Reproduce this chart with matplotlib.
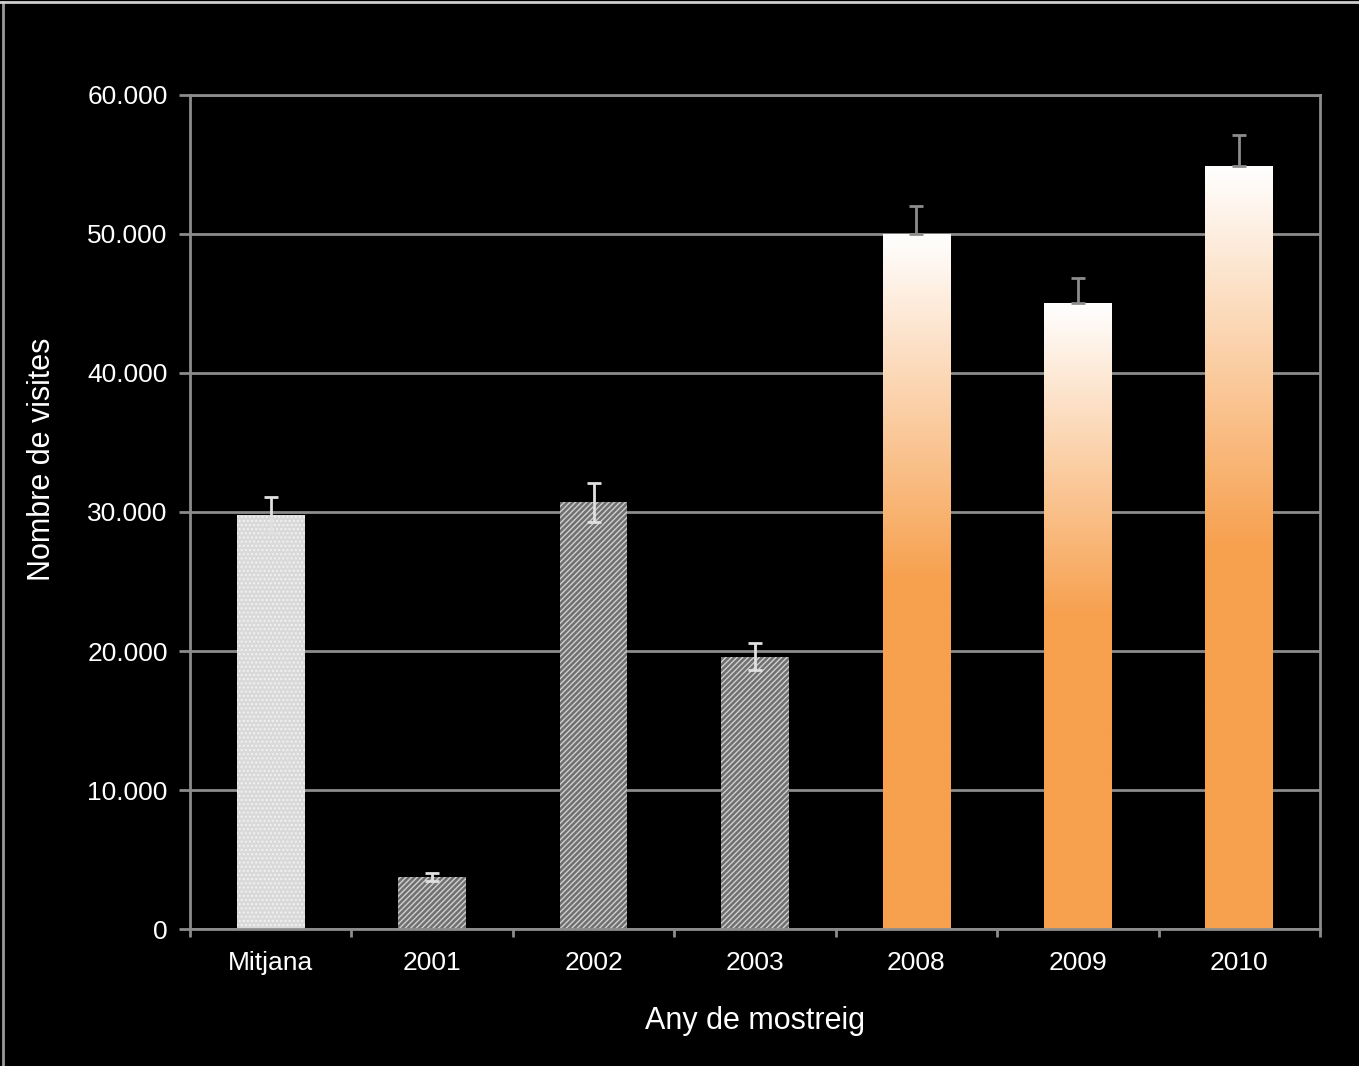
import numpy as np
import matplotlib.pyplot as plt
from matplotlib.colors import LinearSegmentedColormap
from matplotlib.ticker import FuncFormatter

categories = ['Mitjana', '2001', '2002', '2003', '2008', '2009', '2010']
visits = [29800, 3750, 30700, 19600, 50000, 45000, 54900]
err_up = [1300, 300, 1400, 950, 2000, 1800, 2200]
err_down = [1300, 300, 1400, 950, 0, 0, 0]

plt.rcParams['font.family'] = ['Liberation Sans', 'DejaVu Sans']

fig = plt.figure(figsize=(13.59, 10.66), dpi=100, facecolor='black')
ax = fig.add_axes([0.1398, 0.1285, 0.8315, 0.7824])
ax.set_facecolor('black')

x = np.arange(len(categories))
w = 0.42
grey = '#8c8c8c'

ax.set_axisbelow(True)
ax.yaxis.grid(True, color=grey, lw=2)

# mitjana - light dotted
ax.bar(x[0], visits[0], w, color='#d9d9d9', hatch='....', edgecolor='#f2f2f2', lw=0)
# hatched grey years
ax.bar(x[1:4], visits[1:4], w, color='#707070', hatch='//////', edgecolor='#d0d0d0', lw=0)

# gradient orange bars
orange = '#f7a04e'
cmap = LinearSegmentedColormap.from_list('og', [(0, orange), (0.5, orange), (1, '#ffffff')])
grad = np.linspace(0, 1, 256).reshape(-1, 1)
for i in range(4, 7):
    b = ax.bar(x[i], visits[i], w, color='none', lw=0)[0]
    im = ax.imshow(grad, cmap=cmap, aspect='auto', origin='lower',
                   extent=[x[i] - w / 2, x[i] + w / 2, 0, visits[i]], zorder=2)
    im.set_clip_path(b)

for i in range(len(categories)):
    c = '#e0e0e0' if i < 4 else grey
    ax.errorbar(x[i], visits[i], yerr=[[err_down[i]], [err_up[i]]], fmt='none',
                ecolor=c, elinewidth=2, capsize=5, capthick=2, zorder=3)

ax.set_xlim(-0.5, len(categories) - 0.5)
ax.set_ylim(0, 60000)
ax.set_yticks(np.arange(0, 60001, 10000))
ax.yaxis.set_major_formatter(FuncFormatter(lambda v, p: '0' if v == 0 else f'{int(v):,}'.replace(',', '.')))
ax.set_xticks(x)
ax.set_xticklabels(categories)
ax.set_xticks(np.arange(-0.5, len(categories)), minor=True)
ax.tick_params(axis='x', which='major', length=0, pad=16, labelsize=19, colors='white')
ax.tick_params(axis='x', which='minor', length=6, width=2, color=grey)
ax.tick_params(axis='y', length=8, width=2, color=grey, labelsize=19, labelcolor='white', pad=8)

for s in ax.spines.values():
    s.set_color(grey)
    s.set_linewidth(2)

ax.set_xlabel('Any de mostreig', fontsize=22, color='white', labelpad=22)
ax.set_ylabel('Nombre de visites', fontsize=22, color='white')
ax.yaxis.set_label_coords(-0.118, 0.563)

# thin frame around the slide
fig.patches.append(plt.Line2D([0.002, 0.002], [0, 0.998], transform=fig.transFigure, color='#9a9a9a', lw=2))
fig.patches.append(plt.Line2D([0, 1], [0.998, 0.998], transform=fig.transFigure, color='#cfcfcf', lw=2))

fig.savefig('out.png', facecolor='black')
